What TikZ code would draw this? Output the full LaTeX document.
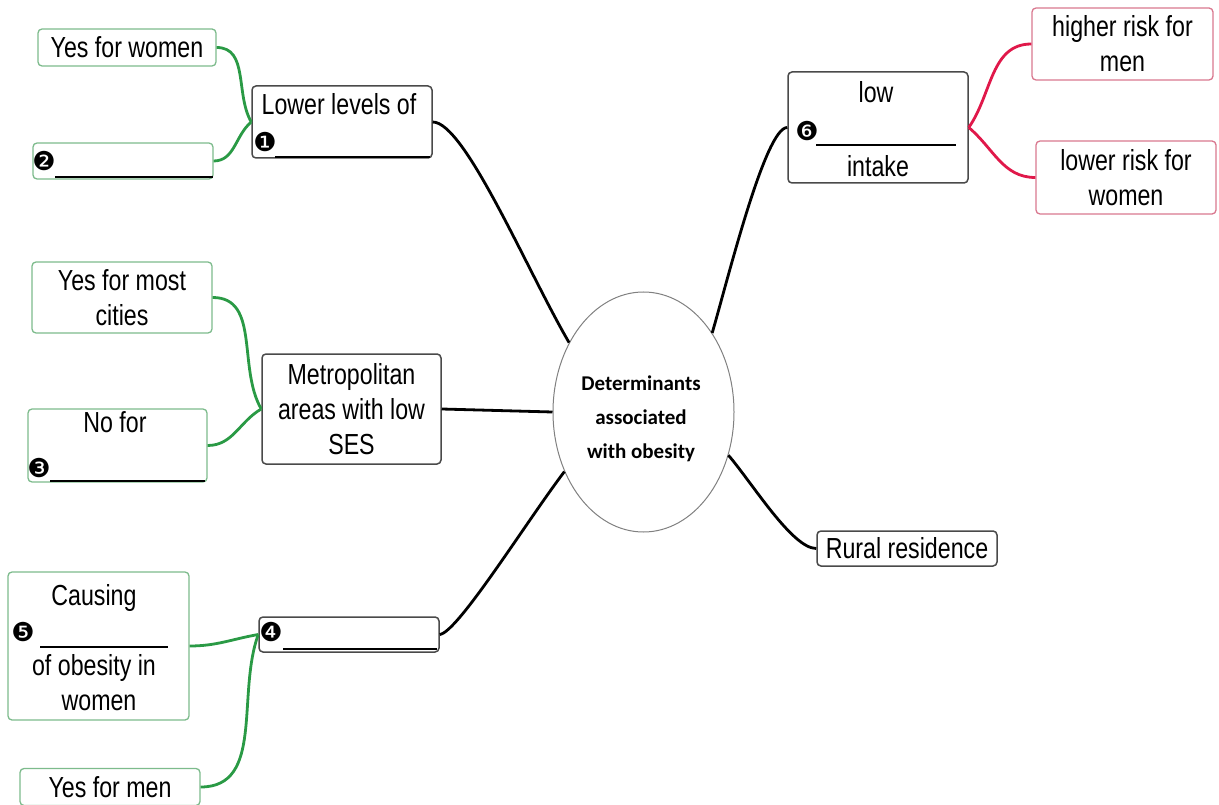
\documentclass[tikz,border=0pt]{standalone}
\usepackage{fontspec}
\setmainfont{Liberation Sans}
\newfontfamily\labfont[FakeStretch=0.8]{Liberation Sans}
\newfontfamily\calfont{Carlito}
\newfontfamily\dvfont{DejaVu Sans}
\usetikzlibrary{shapes.geometric}
\definecolor{gline}{HTML}{2A9A45}
\definecolor{gbord}{HTML}{7DBB8C}
\definecolor{rline}{HTML}{E0184A}
\definecolor{rbord}{HTML}{D9788F}
\definecolor{kbord}{HTML}{4A4A4A}
\begin{document}
\begin{tikzpicture}[x=1pt,y=-1pt,
 box/.style={draw=kbord, line width=1.5pt, rounded corners=4pt, fill=white, inner sep=0pt, font=\labfont\fontsize{29}{35}\selectfont, align=center},
 gbox/.style={box, draw=gbord, line width=1.3pt},
 rbox/.style={box, draw=rbord, line width=1.3pt},
 lab/.style={inner sep=0pt, font=\labfont\fontsize{29}{35}\selectfont, anchor=base},
 num/.style={inner sep=0pt, font=\dvfont\fontsize{26}{26}\selectfont},
 uline/.style={line width=2.2pt, black},
 kc/.style={line width=2.8pt, black},
 gc/.style={line width=2.8pt, gline},
 rc/.style={line width=2.8pt, rline},
]
\useasboundingbox (0,0) rectangle (1219,805);

% left top
\node[gbox, minimum width=178pt, minimum height=37pt] (ywomen) at (127,47.5) {Yes for women};
\node[gbox, minimum width=180pt, minimum height=36pt] (n2) at (123,161) {};
\node[num] (n2num) at (44,161) {❷};
\draw[uline] (55,177) -- (213,177);
\node[box, minimum width=180pt, minimum height=72pt] (lower) at (342,122) {};
\node[lab] (lowertxt) at (339,115) {Lower levels of};
\node[num] (n1num) at (265,142) {❶};
\draw[uline] (275,157) -- (430,157);

% left middle
\node[gbox, minimum width=180pt, minimum height=71pt] (ycities) at (122,297.5) {Yes for most\\cities};
\node[gbox, minimum width=179pt, minimum height=73pt] (no3) at (117.5,445.5) {};
\node[lab] (notxt) at (115,432) {No for};
\node[num] (n3num) at (39,468) {❸};
\draw[uline] (50,481) -- (205,481);
\node[box, minimum width=179pt, minimum height=110pt] (metro) at (351.5,409) {Metropolitan\\areas with low\\SES};

% center
\node[draw=gray, fill=white, line width=1pt, ellipse, minimum width=181pt, minimum height=240pt, inner sep=0pt] (core) at (643.5,412) {};
\node[align=center, inner sep=0pt, font=\calfont\bfseries\fontsize{21}{34}\selectfont] (coretxt) at (641,419) {Determinants\\associated\\with obesity};

% left bottom
\node[gbox, minimum width=181pt, minimum height=148pt] (causing) at (98.5,646) {};
\node[lab] (c1) at (94,605) {Causing};
\node[num] (n5num) at (23,632) {❺};
\draw[uline] (40,647) -- (168,647);
\node[lab] (c2) at (94,675) {of obesity in};
\node[lab] (c3) at (99,710) {women};
\node[gbox, minimum width=180pt, minimum height=37pt] (ymen) at (110,787) {Yes for men};
\node[box, minimum width=180pt, minimum height=35pt] (n4) at (349,634.5) {};
\node[num] (n4num) at (271,632) {❹};
\draw[uline] (283,649) -- (437,649);

% right
\node[box, minimum width=180pt, minimum height=111pt] (low) at (878,127.5) {};
\node[lab] (l1) at (876,103) {low};
\node[num] (n6num) at (807,131) {❻};
\draw[uline] (816,145) -- (956,145);
\node[lab] (l2) at (878,177) {intake};
\node[rbox, minimum width=181pt, minimum height=72pt] (hmen) at (1122.5,44) {higher risk for\\men};
\node[rbox, minimum width=180pt, minimum height=73pt] (lwomen) at (1126,177.5) {lower risk for\\women};
\node[box, minimum width=180pt, minimum height=35pt] (rural) at (907,548.5) {Rural residence};

% connectors
\draw[kc] (lower.east) .. controls +(32,0) and +(-42,-72) .. (core.137);
\draw[kc] (metro.east) -- (core.west);
\draw[kc] (n4.east) .. controls +(18,-2) and +(-38,50) .. (core.217);
\draw[kc] (core.49) .. controls +(16,-55) and +(-22,0) .. (low.west);
\draw[kc] (core.-27) .. controls +(24,28) and +(-24,0) .. (rural.west);

\draw[gc] (ywomen.east) to[out=0,in=120] (lower.west);
\draw[gc] (n2.east) to[out=0,in=220] (lower.west);
\draw[gc] (ycities.east) to[out=0,in=120] (metro.west);
\draw[gc] (no3.east) to[out=0,in=210] (metro.west);
\draw[gc] (causing.east) to[out=0,in=190] (n4.west);
\draw[gc] (ymen.east) to[out=0,in=250] (n4.west);

\draw[rc] (low.east) to[out=55,in=180] (hmen.west);
\draw[rc] (low.east) to[out=-40,in=180] (lwomen.west);
\end{tikzpicture}
\end{document}
